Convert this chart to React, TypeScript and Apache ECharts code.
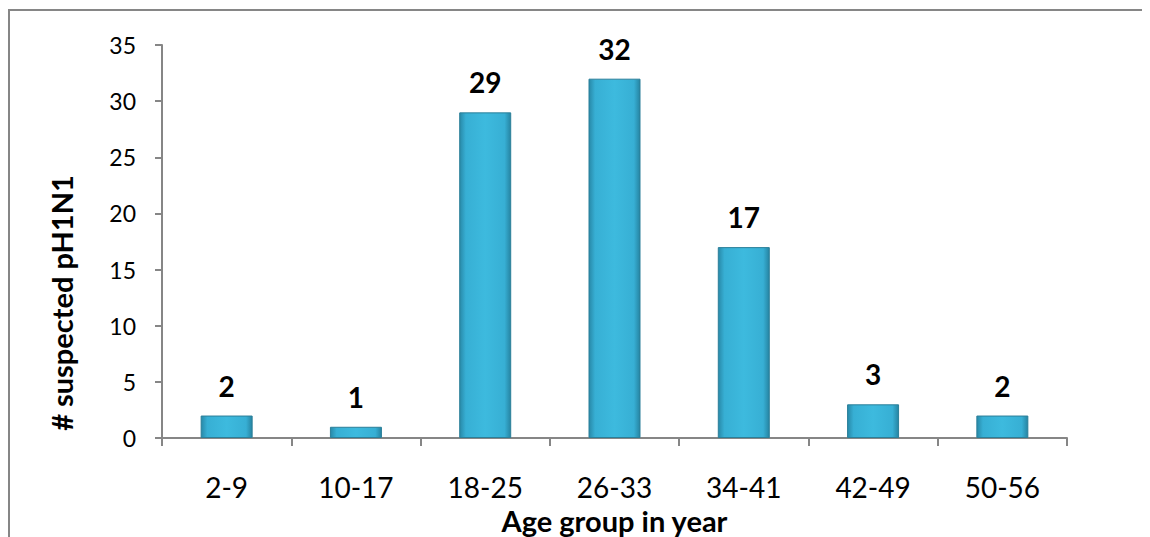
import React, { useEffect, useRef } from "react";
import * as echarts from "echarts";

const categories = ["2-9", "10-17", "18-25", "26-33", "34-41", "42-49", "50-56"];
const values = [2, 1, 29, 32, 17, 3, 2];
const yTicks = { min: 0, max: 35, interval: 5 };

const FONT = "Lato, 'Open Sans', sans-serif";

export default function App() {
  const ref = useRef<HTMLDivElement>(null);
  useEffect(() => {
    if (!ref.current) return;
    const chart = echarts.init(ref.current, null, { renderer: "svg" });
    chart.setOption({
      animation: false,
      backgroundColor: "#ffffff",
      textStyle: { fontFamily: FONT },
      graphic: [
        { type: "line", shape: { x1: 0, y1: 2, x2: 1142, y2: 2 }, style: { stroke: "#868686", lineWidth: 2 } },
        { type: "line", shape: { x1: 1, y1: 1, x2: 1, y2: 529 }, style: { stroke: "#868686", lineWidth: 2 } },
      ],
      grid: { left: 154, top: 37, right: 83, bottom: 99, containLabel: false, outerBoundsMode: "none" },
      xAxis: {
        type: "category",
        data: categories,
        name: "Age group in year",
        nameLocation: "middle",
        nameGap: 55,
        nameTextStyle: { fontSize: 29, fontWeight: "bold", color: "#000", fontFamily: FONT },
        axisLine: { lineStyle: { color: "#868686", width: 2 } },
        axisTick: { show: true, length: 8, alignWithLabel: false, lineStyle: { color: "#868686", width: 2 } },
        axisLabel: { fontSize: 28, color: "#000", margin: 35, fontFamily: FONT },
      },
      yAxis: {
        type: "value",
        min: yTicks.min,
        max: yTicks.max,
        interval: yTicks.interval,
        name: "# suspected pH1N1",
        nameLocation: "middle",
        nameGap: 86,
        nameTextStyle: { fontSize: 29, fontWeight: "bold", color: "#000", fontFamily: FONT, padding: [0, 123, 0, 0] },
        axisLine: { show: true, lineStyle: { color: "#868686", width: 2 } },
        axisTick: { show: true, length: 7, lineStyle: { color: "#868686", width: 2 } },
        splitLine: { show: false },
        axisLabel: { fontSize: 23, color: "#000", margin: 26, fontFamily: FONT },
      },
      series: [
        {
          type: "bar",
          data: values,
          barWidth: 52,
          itemStyle: {
            color: new echarts.graphic.LinearGradient(0, 0, 1, 0, [
              { offset: 0, color: "#2889a8" },
              { offset: 0.12, color: "#37afd4" },
              { offset: 0.5, color: "#3dbade" },
              { offset: 0.88, color: "#37afd4" },
              { offset: 1, color: "#2684a2" },
            ]),
            borderColor: "#2b7f99",
            borderWidth: 1,
          },
          label: {
            show: true,
            position: "top",
            distance: 16,
            fontSize: 28,
            fontWeight: "bold",
            color: "#000",
            fontFamily: FONT,
          },
        },
      ],
    });
    return () => chart.dispose();
  }, []);
  return <div ref={ref} style={{ width: 1142, height: 529 }} />;
}
